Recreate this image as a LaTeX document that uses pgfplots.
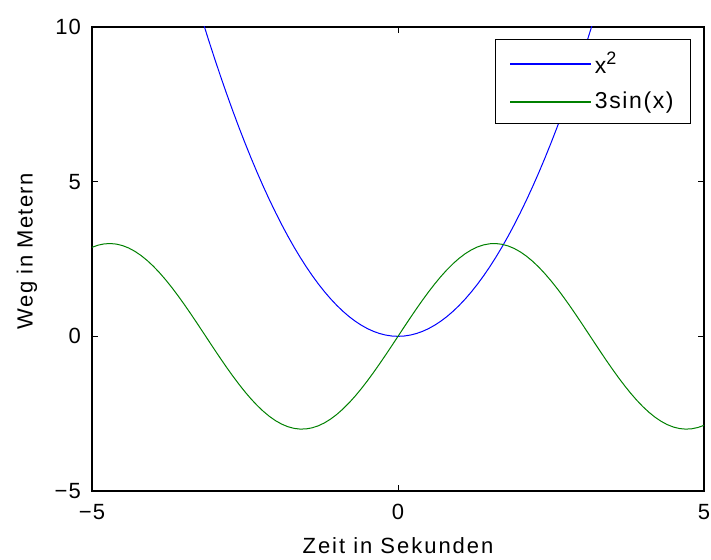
\documentclass[border=0pt]{standalone}
\usepackage{fontspec}
\setmainfont{Liberation Sans}
\usepackage{pgfplots}
\pgfplotsset{compat=1.18}
\definecolor{mblue}{rgb}{0,0,1}
\definecolor{mgreen}{rgb}{0,0.5,0}
\begin{document}
\begin{tikzpicture}
\begin{axis}[
  scale only axis, width=306pt, height=232pt,
  xmin=-5, xmax=5, ymin=-5, ymax=10,
  xtick={-5,0,5}, xticklabels={−5,0,5},
  ytick={-5,0,5,10}, yticklabels={−5,0,5,10},
  tick align=inside, major tick length=3pt,
  axis line style={line width=0.6pt}, every tick/.style={black, line width=0.5pt},
  /pgf/number format/assume math mode=true,
  ticklabel style={font=\fontsize{11}{12}\selectfont\addfontfeature{LetterSpace=5}},
  xticklabel style={yshift=-3pt},
  yticklabel style={xshift=-2pt},
  xlabel={Zeit in Sekunden}, ylabel={Weg in Metern},
  label style={font=\fontsize{11}{13}\selectfont},
  xlabel style={at={(axis description cs:0.5,0)}, anchor=center, yshift=-27.5pt,
    font=\fontsize{11}{13}\selectfont\addfontfeature{LetterSpace=9}},
  ylabel style={at={(axis description cs:-0.1062,0.517)}, anchor=center,
    font=\fontsize{11}{13}\selectfont\addfontfeature{LetterSpace=6}},
  legend style={at={(0.979,0.974)}, anchor=north east, draw=black, line width=0.5pt,
    inner xsep=7pt, inner ysep=4pt, row sep=4pt,
    font=\fontsize{11.5}{13}\selectfont\addfontfeature{LetterSpace=7},
    nodes={inner xsep=1.5pt, inner ysep=2pt}},
  legend cell align=left,
  every axis plot/.append style={line width=0.5pt},
]
\addplot[color=mblue, legend image code/.code={\draw[mblue, line width=0.7pt] (0pt,0pt) -- (40.5pt,0pt);}] coordinates {
(-3.3,10.89)(-3.2,10.24)(-3.1,9.61)(-3.0,9.0)(-2.9,8.41)(-2.8,7.84)(-2.7,7.29)(-2.6,6.76)(-2.5,6.25)(-2.4,5.76)(-2.3,5.29)(-2.2,4.84)(-2.1,4.41)(-2.0,4.0)(-1.9,3.61)(-1.8,3.24)(-1.7,2.89)(-1.6,2.56)(-1.5,2.25)(-1.4,1.96)(-1.3,1.69)(-1.2,1.44)(-1.1,1.21)(-1.0,1.0)(-0.9,0.81)(-0.8,0.64)(-0.7,0.49)(-0.6,0.36)(-0.5,0.25)(-0.4,0.16)(-0.3,0.09)(-0.2,0.04)(-0.1,0.01)(0,0)
(0.1,0.01)(0.2,0.04)(0.3,0.09)(0.4,0.16)(0.5,0.25)(0.6,0.36)(0.7,0.49)(0.8,0.64)(0.9,0.81)(1.0,1.0)(1.1,1.21)(1.2,1.44)(1.3,1.69)(1.4,1.96)(1.5,2.25)(1.6,2.56)(1.7,2.89)(1.8,3.24)(1.9,3.61)(2.0,4.0)(2.1,4.41)(2.2,4.84)(2.3,5.29)(2.4,5.76)(2.5,6.25)(2.6,6.76)(2.7,7.29)(2.8,7.84)(2.9,8.41)(3.0,9.0)(3.1,9.61)(3.2,10.24)(3.3,10.89)
};
\addlegendentry{x\raisebox{0.75ex}{\fontsize{9}{10}\selectfont 2}}
\addplot[color=mgreen, legend image code/.code={\draw[mgreen, line width=0.7pt] (0pt,0pt) -- (40.5pt,0pt);}] coordinates {
(-5.0,2.8768)(-4.9,2.9474)(-4.8,2.9885)(-4.7,2.9998)(-4.6,2.9811)(-4.5,2.9326)(-4.4,2.8548)(-4.3,2.7485)(-4.2,2.6147)(-4.1,2.4548)(-4.0,2.2704)(-3.9,2.0633)(-3.8,1.8356)(-3.7,1.5895)(-3.6,1.3276)(-3.5,1.0523)(-3.4,0.7666)(-3.3,0.4732)(-3.2,0.1751)(-3.1,-0.1247)(-3.0,-0.4234)(-2.9,-0.7177)(-2.8,-1.0050)(-2.7,-1.2821)(-2.6,-1.5465)(-2.5,-1.7954)(-2.4,-2.0264)(-2.3,-2.2371)(-2.2,-2.4255)(-2.1,-2.5896)(-2.0,-2.7279)(-1.9,-2.8389)(-1.8,-2.9215)(-1.7,-2.9750)(-1.6,-2.9987)(-1.5,-2.9925)(-1.4,-2.9563)(-1.3,-2.8907)(-1.2,-2.7961)(-1.1,-2.6736)(-1.0,-2.5244)(-0.9,-2.3500)(-0.8,-2.1521)(-0.7,-1.9327)(-0.6,-1.6939)(-0.5,-1.4383)(-0.4,-1.1683)(-0.3,-0.8866)(-0.2,-0.5960)(-0.1,-0.2995)(0,0)
(0.1,0.2995)(0.2,0.5960)(0.3,0.8866)(0.4,1.1683)(0.5,1.4383)(0.6,1.6939)(0.7,1.9327)(0.8,2.1521)(0.9,2.3500)(1.0,2.5244)(1.1,2.6736)(1.2,2.7961)(1.3,2.8907)(1.4,2.9563)(1.5,2.9925)(1.6,2.9987)(1.7,2.9750)(1.8,2.9215)(1.9,2.8389)(2.0,2.7279)(2.1,2.5896)(2.2,2.4255)(2.3,2.2371)(2.4,2.0264)(2.5,1.7954)(2.6,1.5465)(2.7,1.2821)(2.8,1.0050)(2.9,0.7177)(3.0,0.4234)(3.1,0.1247)(3.2,-0.1751)(3.3,-0.4732)(3.4,-0.7666)(3.5,-1.0523)(3.6,-1.3276)(3.7,-1.5895)(3.8,-1.8356)(3.9,-2.0633)(4.0,-2.2704)(4.1,-2.4548)(4.2,-2.6147)(4.3,-2.7485)(4.4,-2.8548)(4.5,-2.9326)(4.6,-2.9811)(4.7,-2.9998)(4.8,-2.9885)(4.9,-2.9474)(5.0,-2.8768)
};
\addlegendentry{3sin(x)}
\end{axis}
\pgfresetboundingbox
\path ([shift={(-46pt,-34.5pt)}]current axis.south west) rectangle ([shift={(3.5pt,13.5pt)}]current axis.north east);
\end{tikzpicture}
\end{document}
